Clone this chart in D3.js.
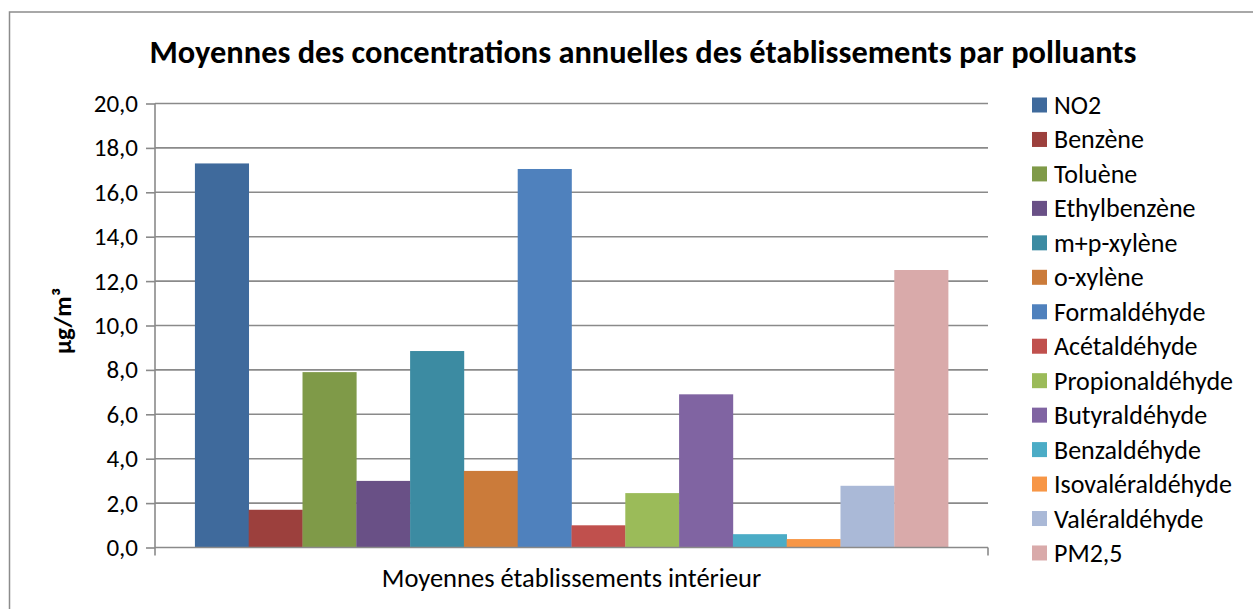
<!DOCTYPE html>
<html>
<head>
<meta charset="utf-8">
<script src="https://cdn.jsdelivr.net/npm/d3@7"></script>
<style>
  body { margin: 0; background: #fff; }
  text { font-family: Carlito, Lato, "Open Sans", sans-serif; fill: #000; }
</style>
</head>
<body>
<script>
// data
var category = "Moyennes établissements intérieur";
var polluants = ["NO2", "Benzène", "Toluène", "Ethylbenzène", "m+p-xylène", "o-xylène",
  "Formaldéhyde", "Acétaldéhyde", "Propionaldéhyde", "Butyraldéhyde", "Benzaldéhyde",
  "Isovaléraldéhyde", "Valéraldéhyde", "PM2,5"];
var valeurs = [17.3, 1.7, 7.9, 3.0, 8.85, 3.45, 17.05, 1.0, 2.45, 6.9, 0.6, 0.38, 2.78, 12.5];
var couleurs = ["#3F6A9C", "#9C403D", "#7F9A48", "#695086", "#3C8BA2", "#CB7B3A",
  "#4F81BD", "#C0504D", "#9BBB59", "#8064A2", "#4BACC6", "#F79646", "#AAB9D7", "#D9AAAA"];
var yTicks = [0, 2, 4, 6, 8, 10, 12, 14, 16, 18, 20];

// define svg
var W = 1253, H = 609;
var svg = d3.select("body").append("svg")
  .attr("width", W)
  .attr("height", H);

// chart border (only left/top visible in the picture)
svg.append("rect")
  .attr("x", 9.5).attr("y", 12)
  .attr("width", 1260).attr("height", 620)
  .attr("fill", "none")
  .attr("stroke", "#8c8c8c")
  .attr("stroke-width", 1.5);

// plot area
var pLeft = 155, pRight = 988, pTop = 103.5, pBottom = 547.5;

var y = d3.scaleLinear().domain([0, 20]).range([pBottom, pTop]);

var x0 = d3.scaleBand()
  .domain([category])
  .range([pLeft, pRight])
  .paddingOuter(0.053)
  .paddingInner(0);

var x1 = d3.scaleBand()
  .domain(polluants)
  .range([0, x0.bandwidth()]);

// gridlines
svg.append("g")
  .selectAll("line")
  .data(yTicks.filter(function(d) { return d > 0; }))
  .enter().append("line")
    .attr("x1", pLeft).attr("x2", pRight)
    .attr("y1", function(d) { return y(d); })
    .attr("y2", function(d) { return y(d); })
    .attr("stroke", "#8a8a8a")
    .attr("stroke-width", 1.6);

// bars
svg.append("g")
  .attr("transform", "translate(" + x0(category) + ",0)")
  .selectAll("rect")
  .data(valeurs)
  .enter().append("rect")
    .attr("x", function(d, i) { return x1(polluants[i]); })
    .attr("width", x1.bandwidth() + 0.3)
    .attr("y", function(d) { return y(d); })
    .attr("height", function(d) { return y(0) - y(d); })
    .attr("fill", function(d, i) { return couleurs[i]; });

// y axis
var yAxis = svg.append("g")
  .attr("transform", "translate(" + pLeft + ",0)")
  .call(d3.axisLeft(y)
    .tickValues(yTicks)
    .tickSize(9)
    .tickPadding(8)
    .tickFormat(function(d) { return d3.format(".1f")(d).replace(".", ","); }));
yAxis.select(".domain").remove();
yAxis.selectAll("line").attr("stroke", "#8a8a8a").attr("stroke-width", 1.6);
yAxis.selectAll("text")
  .attr("font-size", 25)
  .attr("font-family", "Carlito, Lato, sans-serif")
  .attr("fill", "#000");

svg.append("line")
  .attr("x1", pLeft).attr("x2", pLeft)
  .attr("y1", pTop).attr("y2", pBottom + 8)
  .attr("stroke", "#8a8a8a").attr("stroke-width", 1.6);

// x axis
svg.append("line")
  .attr("x1", pLeft).attr("x2", pRight)
  .attr("y1", pBottom).attr("y2", pBottom)
  .attr("stroke", "#8a8a8a").attr("stroke-width", 1.6);
svg.append("line")
  .attr("x1", pRight).attr("x2", pRight)
  .attr("y1", pBottom).attr("y2", pBottom + 8)
  .attr("stroke", "#8a8a8a").attr("stroke-width", 1.6);

svg.append("text")
  .attr("x", x0(category) + x0.bandwidth() / 2)
  .attr("y", 587)
  .attr("text-anchor", "middle")
  .attr("font-size", 26.5)
  .text(category);

// title
svg.append("text")
  .attr("x", 643)
  .attr("y", 63)
  .attr("text-anchor", "middle")
  .attr("font-size", 32.4)
  .attr("font-weight", "bold")
  .text("Moyennes des concentrations annuelles des établissements par polluants");

// y title
svg.append("text")
  .attr("transform", "translate(71,321) rotate(-90)")
  .attr("text-anchor", "middle")
  .attr("font-size", 25)
  .attr("font-weight", "bold")
  .text("µg/m³");

// legend
var legend = svg.append("g")
  .selectAll("g")
  .data(polluants)
  .enter().append("g")
    .attr("transform", function(d, i) { return "translate(1032," + (105 + i * 34.46) + ")"; });

legend.append("rect")
  .attr("x", 0).attr("y", -7.5)
  .attr("width", 15).attr("height", 15)
  .attr("fill", function(d, i) { return couleurs[i]; });

legend.append("text")
  .attr("x", 22)
  .attr("y", 9)
  .attr("font-size", 26)
  .text(function(d) { return d; });
</script>
</body>
</html>
